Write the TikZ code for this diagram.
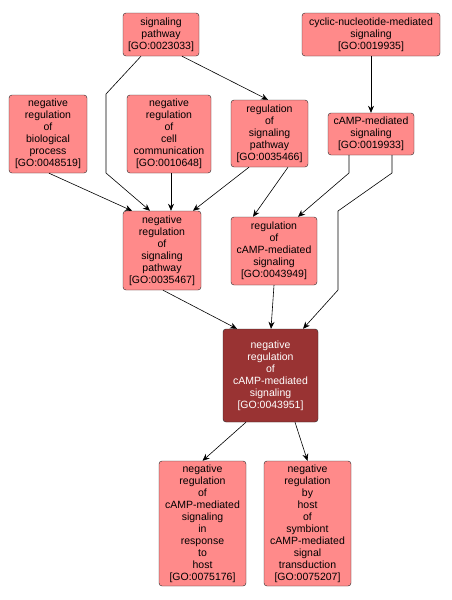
\documentclass[tikz,border=0pt]{standalone}
\usepackage{fontspec}
\setmainfont{Liberation Sans}
\usepackage{tikz}
\usetikzlibrary{arrows.meta,positioning}
\definecolor{goLight}{RGB}{255,138,138}
\definecolor{goDark}{RGB}{153,51,51}
\definecolor{goEdge}{RGB}{40,40,40}

\begin{document}
\begin{tikzpicture}[x=1pt, y=-1pt,
  term/.style={draw=goEdge, fill=goLight, rounded corners=3pt, align=center, inner sep=0pt,
    font=\fontsize{10.5}{12}\selectfont},
  focus/.style={term, fill=goDark, text=white},
  edge/.style={-{Stealth[length=7pt, width=6pt]}, black, line width=0.6pt}]
\useasboundingbox (0,0) rectangle (451,600);
% top rows
\node[term, minimum width=76pt, minimum height=43pt] (sp) at (161,34.5) {signaling\\pathway\\{[GO:0023033]}};
\node[term, minimum width=138pt, minimum height=43pt] (cnms) at (371,34.5) {cyclic-nucleotide-mediated\\signaling\\{[GO:0019935]}};
\node[term, minimum width=78pt, minimum height=78pt] (nrbp) at (48,134) {negative\\regulation\\of\\biological\\process\\{[GO:0048519]}};
\node[term, minimum width=84pt, minimum height=78pt] (nrcc) at (169,134) {negative\\regulation\\of\\cell\\communication\\{[GO:0010648]}};
\node[term, minimum width=77pt, minimum height=67pt] (rsp) at (269.5,133.5) {regulation\\of\\signaling\\pathway\\{[GO:0035466]}};
\node[term, minimum width=86pt, minimum height=42pt] (cms) at (371,134) {cAMP-mediated\\signaling\\{[GO:0019933]}};
\node[term, minimum width=78pt, minimum height=79pt] (nrsp) at (162,250.5) {negative\\regulation\\of\\signaling\\pathway\\{[GO:0035467]}};
\node[term, minimum width=86pt, minimum height=68pt] (rcms) at (274,251) {regulation\\of\\cAMP-mediated\\signaling\\{[GO:0043949]}};
% focus term and children
\node[focus, minimum width=95pt, minimum height=93pt] (nrcms) at (270.5,375.5) {negative\\regulation\\of\\cAMP-mediated\\signaling\\{[GO:0043951]}};
\node[term, minimum width=87pt, minimum height=125pt] (nrcmsh) at (202.5,523.5) {negative\\regulation\\of\\cAMP-mediated\\signaling\\in\\response\\to\\host\\{[GO:0075176]}};
\node[term, minimum width=87pt, minimum height=125pt] (nrhs) at (307.5,523.5) {negative\\regulation\\by\\host\\of\\symbiont\\cAMP-mediated\\signal\\transduction\\{[GO:0075207]}};
% edges
\draw[edge] ([xshift=-20pt]sp.south) -- (106,94) -- (106,173) -- ([xshift=-12pt]nrsp.north);
\draw[edge] ([xshift=21pt]sp.south) -- ([xshift=-1.5pt]rsp.north);
\draw[edge] (cnms.south) -- (cms.north);
\draw[edge] ([xshift=1pt]nrbp.south) -- ([xshift=-30pt]nrsp.north);
\draw[edge] ([xshift=2pt]nrcc.south) -- ([xshift=9pt]nrsp.north);
\draw[edge] ([xshift=-20.5pt]rsp.south) -- ([xshift=31pt]nrsp.north);
\draw[edge] ([xshift=18.5pt]rsp.south) -- ([xshift=-21pt]rcms.north);
\draw[edge] ([xshift=-22pt]cms.south) -- (349,173) -- ([xshift=24pt]rcms.north);
\draw[edge] ([xshift=21pt]cms.south) -- (392,173) -- (338,211) -- (338,290) -- ([xshift=32.5pt]nrcms.north);
\draw[edge] ([xshift=1pt]nrsp.south) -- ([xshift=-33.5pt]nrcms.north);
\draw[edge] (rcms.south) -- ([xshift=0.5pt]nrcms.north);
\draw[edge] ([xshift=-24.5pt]nrcms.south) -- (nrcmsh.north);
\draw[edge] ([xshift=24.5pt]nrcms.south) -- (nrhs.north);
\end{tikzpicture}
\end{document}
